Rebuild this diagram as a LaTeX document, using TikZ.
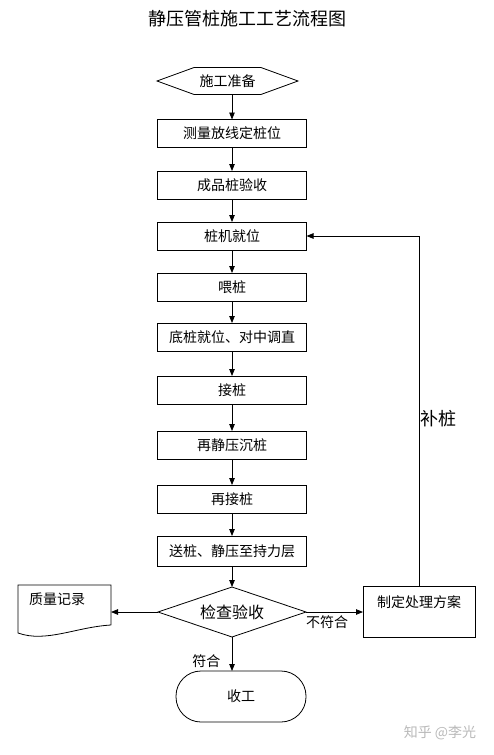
\documentclass[tikz,border=0pt]{standalone}
\usepackage{fontspec}
\setmainfont{Noto Sans CJK SC}
\usetikzlibrary{arrows.meta,positioning,shapes.geometric,shapes.symbols}

\begin{document}
\begin{tikzpicture}[
  x=1pt, y=1pt,
  font=\fontsize{14}{16}\selectfont,
  proc/.style={draw, rectangle, line width=0.8pt, outer sep=0pt, minimum width=149pt, minimum height=28pt, inner sep=2pt},
  startbox/.style={draw, signal, signal to=west and east, signal pointer angle=40, line width=0.8pt, outer sep=0pt, minimum width=141pt, minimum height=27pt, inner sep=2pt},
  check/.style={draw, diamond, aspect=3, line width=0.8pt, outer sep=0pt, minimum width=148pt, minimum height=50pt, inner sep=0pt, font=\fontsize{16}{18}\selectfont},
  endbox/.style={draw, rectangle, rounded corners=25pt, line width=0.8pt, outer sep=0pt, minimum width=130pt, minimum height=51pt},
  plain/.style={inner sep=1pt},
  arr/.style={-{Triangle[length=7pt,width=5.5pt]}, line width=0.8pt}
]
\useasboundingbox (0,0) rectangle (494,-755);
\node[font=\fontsize{18}{20}\selectfont] (title) at (247,-19) {静压管桩施工工艺流程图};
% main column
\node[startbox] (prep) at (227.5,-81) {施工准备};
\node[proc, below=25pt of prep, xshift=4.5pt] (survey) {测量放线定桩位};
\node[proc, below=23.5pt of survey] (accept) {成品桩验收};
\node[proc, below=23pt of accept] (rig) {桩机就位};
\node[proc, below=23pt of rig] (feed) {喂桩};
\node[proc, below=22pt of feed] (bottom) {底桩就位、对中调直};
\node[proc, below=25pt of bottom] (joint) {接桩};
\node[proc, below=27pt of joint] (press) {再静压沉桩};
\node[proc, below=26pt of press] (rejoint) {再接桩};
\node[proc, below=23pt of rejoint, minimum height=30pt] (drive) {送桩、静压至持力层};
\node[check, below=21pt of drive] (insp) {检查验收};
\node[endbox, below=34pt of insp, xshift=9pt] (finish) {收工};
% side boxes
\node[draw=none, outer sep=0pt, minimum width=93pt, minimum height=40pt, left=47pt of insp, yshift=7pt] (record) {};
\draw[line width=0.8pt] (record.south east) -- (record.north east) -- (record.north west)
  -- ([yshift=-8pt]record.south west) .. controls ++(28,-10) and ++(-35,-2) .. (record.south east);
\node[plain, below right=7pt and 10pt of record.north west, anchor=north west] (recordtxt) {质量记录};
\node[draw, line width=0.8pt, outer sep=0pt, minimum width=112pt, minimum height=51pt, right=57pt of insp] (plan) {};
\node[plain, below=8pt of plan.north] (plantxt) {制定处理方案};
\node[text=gray!55] (mark) at (440,-733) {知乎 @李光};
% connectors
\draw[arr] (survey.north |- prep.south) -- (survey.north);
\draw[arr] (survey) -- (accept);
\draw[arr] (accept) -- (rig);
\draw[arr] (rig) -- (feed);
\draw[arr] (feed) -- (bottom);
\draw[arr] (bottom) -- (joint);
\draw[arr] (joint) -- (press);
\draw[arr] (press) -- (rejoint);
\draw[arr] (rejoint) -- (drive);
\draw[arr] (drive) -- (insp);
\draw[arr] (insp.west) -- (insp.west -| record.east);
\draw[arr] (insp.east) -- node[below, pos=0.37, inner sep=3pt] {不符合} (plan.west);
\draw[arr] (insp.south) -- node[left, pos=0.7, xshift=-8pt] {符合} (insp.south |- finish.north);
\draw[arr] (plan.north) |- node[right, pos=0.24, inner sep=1pt, font=\fontsize{18}{20}\selectfont] {补桩} (rig.east);
\end{tikzpicture}
\end{document}
